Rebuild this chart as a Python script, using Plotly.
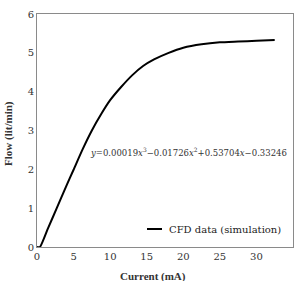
import plotly.graph_objects as go

# Data
current_mA = [0.0, 0.4, 1.5, 2.7, 4.0, 5.0, 6.2, 7.5, 8.8, 10.0, 11.5, 13.0, 14.5,
              16.0, 18.0, 20.0, 22.5, 25.0, 27.5, 30.0, 32.5]
flow_lpm = [0.0, 0.0, 0.48, 1.0, 1.57, 1.99, 2.50, 3.0, 3.43, 3.78, 4.12, 4.42, 4.66,
            4.83, 5.0, 5.13, 5.22, 5.27, 5.29, 5.31, 5.33]
x_ticks = [0, 5, 10, 15, 20, 25, 30, 35]
y_ticks = [0, 1, 2, 3, 4, 5, 6]
series_name = "CFD data (simulation)"
fit_text = ("<i>y</i>=0.00019<i>x</i><sup>3</sup>−0.01726<i>x</i><sup>2</sup>"
            "+0.53704<i>x</i>−0.33246")

FONT = "DejaVu Serif"
TFONT = "Liberation Serif"
W, H = 297, 281
ml, mr, mt, mb = 37, 4, 14, 34

fig = go.Figure()
fig.add_trace(go.Scatter(x=current_mA, y=flow_lpm, mode="lines", name=series_name,
                         line=dict(color="black", width=2, shape="spline", smoothing=0.5),
                         showlegend=False))

axis_common = dict(showgrid=False, zeroline=False, showline=True, mirror=True,
                   linecolor="#8a8a8a", linewidth=1, ticks="",
                   tickfont=dict(family=FONT, size=10, color="#333"))
fig.update_xaxes(range=[0, 35], tickvals=x_ticks, ticktext=[str(v) for v in x_ticks],
                 **axis_common)
fig.update_yaxes(range=[0, 6], tickvals=y_ticks, ticktext=[str(v) for v in y_ticks],
                 **axis_common)

pw = W - ml - mr
ph = H - mt - mb
def px(xp):
    return (xp - ml) / pw
def py(yp):
    return (H - mb - yp) / ph

annotations = [
    dict(text="<b>Current (mA)</b>", x=px(153), y=py(276), xref="paper", yref="paper",
         showarrow=False, font=dict(family=TFONT, size=11, color="#333"),
         xanchor="center", yanchor="middle"),
    dict(text="<b>Flow (lit/min)</b>", x=px(8), y=py(134), xref="paper", yref="paper",
         showarrow=False, textangle=-90, font=dict(family=TFONT, size=11, color="#333"),
         xanchor="center", yanchor="middle"),
    dict(text=fit_text, x=px(88), y=py(152), xref="paper", yref="paper",
         showarrow=False, font=dict(family=FONT, size=8.5, color="#333"),
         xanchor="left", yanchor="middle"),
    dict(text=series_name, x=px(167), y=py(229), xref="paper", yref="paper",
         showarrow=False, font=dict(family=FONT, size=10, color="#222"),
         xanchor="left", yanchor="middle"),
]
fig.add_shape(type="line", xref="paper", yref="paper", x0=px(147), x1=px(162),
              y0=py(229), y1=py(229), line=dict(color="black", width=2))

fig.update_layout(width=W, height=H, margin=dict(l=ml, r=mr, t=mt, b=mb),
                  paper_bgcolor="white", plot_bgcolor="white",
                  annotations=annotations, showlegend=False)
fig.write_html("out.html")
